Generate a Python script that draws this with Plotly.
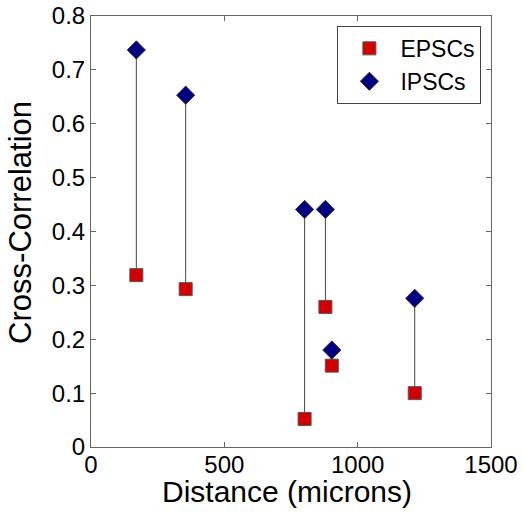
import plotly.graph_objects as go

distance = [170, 355, 801, 879, 903, 1214]
epsc = [0.319, 0.293, 0.052, 0.260, 0.151, 0.100]
ipsc = [0.737, 0.653, 0.441, 0.441, 0.180, 0.276]
x_ticks = [0, 500, 1000, 1500]
y_ticks = [0, 0.1, 0.2, 0.3, 0.4, 0.5, 0.6, 0.7, 0.8]
y_tick_labels = ["0", "0.1", "0.2", "0.3", "0.4", "0.5", "0.6", "0.7", "0.8"]

line_x, line_y = [], []
for d, e, i in zip(distance, epsc, ipsc):
    line_x += [d, d, None]
    line_y += [e, i, None]

fig = go.Figure()
fig.add_trace(go.Scatter(x=line_x, y=line_y, mode="lines",
                         line=dict(color="#444444", width=1), showlegend=False,
                         hoverinfo="skip"))
fig.add_trace(go.Scatter(x=distance, y=epsc, mode="markers", name="EPSCs",
                         marker=dict(symbol="square", size=13, color="#d40000",
                                     line=dict(color="#555555", width=1))))
fig.add_trace(go.Scatter(x=distance, y=ipsc, mode="markers", name="IPSCs",
                         marker=dict(symbol="diamond", size=14, color="#000080",
                                     line=dict(color="#333333", width=1))))

font = "Liberation Sans, Arial, Helvetica, sans-serif"
axis_common = dict(showline=True, linecolor="#666666", linewidth=1, mirror="allticks",
                   ticks="inside", ticklen=5, tickcolor="#666666", showgrid=False,
                   zeroline=False, tickfont=dict(size=24, color="black", family=font))

fig.update_layout(
    width=523, height=514,
    margin=dict(l=91, r=32, t=16, b=67, autoexpand=False),
    paper_bgcolor="white", plot_bgcolor="white",
    font=dict(family=font, color="black"),
    xaxis=dict(range=[0, 1500], tickvals=x_ticks, ticklabelstandoff=-4, **axis_common),
    yaxis=dict(range=[0, 0.8], tickvals=y_ticks, ticktext=y_tick_labels, **axis_common),
    legend=dict(x=0.976, y=0.977, xanchor="right", yanchor="top",
                bordercolor="#444444", borderwidth=1, bgcolor="white",
                font=dict(size=23, family=font), itemwidth=52),
    showlegend=True,
    annotations=[
        dict(text="Distance (microns)", xref="paper", yref="paper", x=0.49, y=-0.104,
             xanchor="center", yanchor="middle", showarrow=False,
             font=dict(size=30, family=font, color="black")),
        dict(text="Cross-Correlation", xref="paper", yref="paper", x=-0.175, y=0.52,
             xanchor="center", yanchor="middle", showarrow=False, textangle=-90,
             font=dict(size=31, family=font, color="black")),
    ],
)
fig.write_html("out.html", config={"displayModeBar": False},
               post_script="document.body.style.margin='0';document.body.style.overflow='hidden';")
